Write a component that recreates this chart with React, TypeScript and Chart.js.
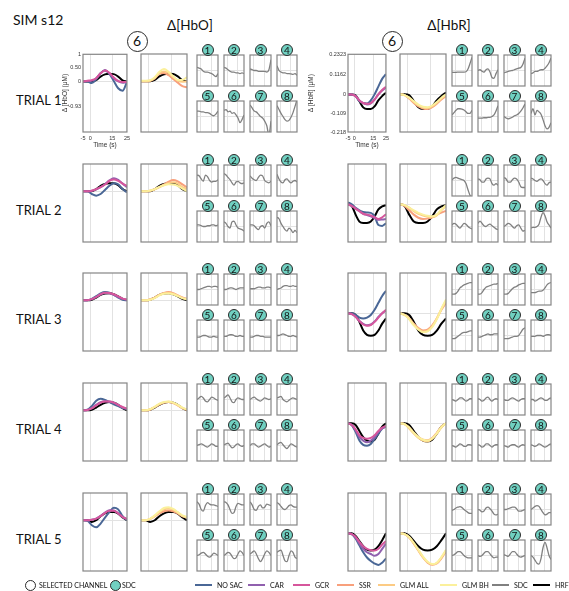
import React, { useEffect, useRef } from "react";
import { Chart, registerables } from "chart.js";

Chart.register(...registerables);

// Sample times (s) shared by every trace
const TIME = [-5, -2, 1, 4, 7, 10, 13, 16, 19, 22, 25];
const TIME_TICKS = [-5, 0, 15, 25];
const TIME_GRID = [0, 15];

const TRIALS = ["TRIAL 1", "TRIAL 2", "TRIAL 3", "TRIAL 4", "TRIAL 5"];
const CHANNELS = ["1", "2", "3", "4", "5", "6", "7", "8"];
const SELECTED_CHANNEL = "6";

// Δ[HbO] axis
const HBO_RANGE = [-1.86, 1];
const HBO_TICKS = [-0.93, 0, 0.5, 1];
const HBO_TICK_LABELS = ["-0.93", "0", "0.50", "1"];
// Δ[HbR] axis
const HBR_RANGE = [-0.218, 0.2323];
const HBR_TICKS = [-0.218, -0.109, 0, 0.1162, 0.2323];
const HBR_TICK_LABELS = ["-0.218", "-0.109", "0", "0.1162", "0.2323"];

// ---- Δ[HbO] (μM), selected channel, one row per trial ----
const hboNoSac = [
  [0, 0, -0.06, 0.08, 0.3, 0.4, 0.28, 0.02, -0.25, -0.34, -0.02],
  [0, 0, -0.1, -0.16, -0.1, 0.05, 0.2, 0.29, 0.25, 0.08, -0.04],
  [0, 0, 0.05, 0.15, 0.25, 0.3, 0.28, 0.2, 0.1, 0.02, 0],
  [0, 0.02, 0.15, 0.35, 0.42, 0.38, 0.3, 0.22, 0.15, 0.08, 0.05],
  [0, -0.02, -0.18, -0.26, -0.12, 0.1, 0.3, 0.46, 0.4, 0.15, 0],
];
const hboCar = [
  [0, 0.02, 0.03, 0.12, 0.3, 0.42, 0.3, 0.12, 0, -0.05, -0.02],
  [0, 0, 0.02, 0.07, 0.15, 0.26, 0.4, 0.48, 0.42, 0.28, 0.15],
  [0, 0, 0.04, 0.12, 0.22, 0.27, 0.26, 0.2, 0.12, 0.05, 0.02],
  [0, 0.01, 0.08, 0.2, 0.3, 0.33, 0.32, 0.28, 0.2, 0.1, 0.05],
  [0, 0, 0.02, 0.06, 0.16, 0.28, 0.37, 0.36, 0.26, 0.12, 0.04],
];
const hboGcr = [
  [0, 0.03, 0.05, 0.12, 0.3, 0.4, 0.32, 0.15, 0.02, -0.02, -0.02],
  [0, 0, 0.02, 0.08, 0.15, 0.25, 0.38, 0.43, 0.38, 0.28, 0.2],
  [0, 0, 0.04, 0.12, 0.22, 0.28, 0.27, 0.22, 0.14, 0.06, 0.03],
  [0, 0.01, 0.07, 0.18, 0.28, 0.32, 0.32, 0.28, 0.2, 0.12, 0.06],
  [0, 0, 0.02, 0.06, 0.15, 0.27, 0.35, 0.35, 0.25, 0.12, 0.05],
];
const hboSsr = [
  [0, 0, 0.02, 0.1, 0.28, 0.3, 0.22, 0.08, -0.05, -0.18, -0.22],
  [0, 0, 0.02, 0.08, 0.15, 0.25, 0.35, 0.41, 0.36, 0.25, 0.14],
  [0, 0, 0.03, 0.1, 0.2, 0.27, 0.3, 0.26, 0.18, 0.1, 0.05],
  [0, 0, 0.03, 0.12, 0.22, 0.28, 0.3, 0.26, 0.18, 0.08, 0.02],
  [0, 0, 0.05, 0.14, 0.25, 0.33, 0.36, 0.33, 0.25, 0.15, 0.1],
];
const hboGlmAll = [
  [0, 0, 0.02, 0.12, 0.3, 0.36, 0.3, 0.15, 0.02, -0.02, 0],
  [0, 0, 0.02, 0.07, 0.15, 0.23, 0.3, 0.33, 0.28, 0.15, 0.08],
  [0, 0, 0.03, 0.1, 0.2, 0.26, 0.28, 0.24, 0.17, 0.08, 0.05],
  [0, 0, 0.03, 0.12, 0.22, 0.29, 0.31, 0.27, 0.18, 0.08, 0.02],
  [0, 0, 0.05, 0.16, 0.3, 0.4, 0.43, 0.38, 0.28, 0.15, 0.1],
];
const hboGlmBh = [
  [0.02, 0.02, 0.04, 0.15, 0.35, 0.45, 0.35, 0.18, 0.05, 0.05, 0.15],
  [0, 0, 0.03, 0.08, 0.16, 0.22, 0.26, 0.25, 0.2, 0.1, 0],
  [0, 0, 0.02, 0.08, 0.18, 0.24, 0.25, 0.22, 0.15, 0.08, 0.03],
  [0, 0, 0.04, 0.13, 0.24, 0.3, 0.32, 0.28, 0.2, 0.1, 0.03],
  [0, 0, 0.06, 0.18, 0.33, 0.45, 0.48, 0.42, 0.3, 0.18, 0.12],
];
const hboHrf = [
  [0, 0, 0, 0.05, 0.18, 0.26, 0.28, 0.27, 0.18, 0.04, 0],
  [0, 0, 0, 0.08, 0.2, 0.27, 0.29, 0.29, 0.22, 0.08, 0],
  [0, 0, 0.02, 0.1, 0.2, 0.25, 0.26, 0.22, 0.14, 0.05, 0],
  [0, 0, 0.02, 0.1, 0.2, 0.27, 0.3, 0.28, 0.2, 0.08, 0],
  [0, 0, -0.06, 0, 0.15, 0.25, 0.3, 0.3, 0.24, 0.1, 0],
];

// ---- Δ[HbR] (μM), selected channel, one row per trial ----
const hbrNoSac = [
  [0, 0, -0.01, -0.04, -0.05, -0.053, -0.035, 0, 0.045, 0.09, 0.117],
  [0.01, 0, -0.02, -0.035, -0.045, -0.048, -0.05, -0.07, -0.12, -0.125, -0.11],
  [0, 0, -0.01, -0.025, -0.03, -0.025, -0.01, 0.02, 0.06, 0.1, 0.13],
  [0, -0.01, -0.05, -0.1, -0.125, -0.13, -0.12, -0.09, -0.06, -0.03, -0.02],
  [0, -0.005, -0.03, -0.07, -0.11, -0.14, -0.16, -0.175, -0.183, -0.17, -0.145],
];
const hbrCar = [
  [0, 0, -0.01, -0.035, -0.05, -0.058, -0.052, -0.03, 0, 0.022, 0.04],
  [0, -0.01, -0.025, -0.04, -0.055, -0.062, -0.07, -0.08, -0.09, -0.088, -0.085],
  [0, -0.005, -0.02, -0.045, -0.062, -0.07, -0.065, -0.048, -0.022, 0, 0.015],
  [0, -0.01, -0.04, -0.08, -0.1, -0.11, -0.1, -0.08, -0.05, -0.03, -0.02],
  [0, -0.005, -0.025, -0.06, -0.09, -0.11, -0.12, -0.13, -0.12, -0.09, -0.06],
];
const hbrGcr = [
  [0, 0, -0.01, -0.035, -0.05, -0.055, -0.05, -0.03, 0, 0.025, 0.045],
  [0, -0.01, -0.025, -0.04, -0.055, -0.06, -0.065, -0.075, -0.085, -0.075, -0.058],
  [0, -0.005, -0.02, -0.045, -0.065, -0.072, -0.068, -0.05, -0.025, 0, 0.02],
  [0, -0.01, -0.035, -0.07, -0.085, -0.09, -0.085, -0.07, -0.045, -0.025, -0.015],
  [0, -0.005, -0.02, -0.05, -0.075, -0.09, -0.098, -0.1, -0.09, -0.065, -0.045],
];
const hbrSsr = [
  [0, -0.005, -0.025, -0.05, -0.07, -0.082, -0.085, -0.075, -0.055, -0.03, -0.01],
  [0, -0.01, -0.035, -0.06, -0.078, -0.085, -0.083, -0.075, -0.06, -0.048, -0.038],
  [0, -0.01, -0.03, -0.06, -0.085, -0.1, -0.095, -0.07, -0.03, 0.02, 0.06],
  [0, -0.005, -0.025, -0.055, -0.08, -0.095, -0.098, -0.085, -0.055, -0.02, 0],
  [0, -0.005, -0.025, -0.06, -0.1, -0.14, -0.17, -0.182, -0.175, -0.145, -0.105],
];
const hbrGlmAll = [
  [0, -0.005, -0.02, -0.045, -0.065, -0.078, -0.08, -0.07, -0.05, -0.025, -0.005],
  [0, -0.005, -0.02, -0.04, -0.055, -0.065, -0.072, -0.075, -0.065, -0.035, -0.01],
  [0, -0.01, -0.03, -0.065, -0.09, -0.105, -0.1, -0.075, -0.03, 0.025, 0.07],
  [0, -0.005, -0.03, -0.06, -0.085, -0.1, -0.105, -0.09, -0.06, -0.025, 0],
  [0, -0.005, -0.025, -0.06, -0.1, -0.138, -0.168, -0.18, -0.172, -0.14, -0.1],
];
const hbrGlmBh = [
  [0, -0.005, -0.02, -0.04, -0.06, -0.072, -0.075, -0.065, -0.045, -0.02, 0],
  [0, -0.005, -0.02, -0.035, -0.05, -0.06, -0.067, -0.07, -0.06, -0.03, -0.005],
  [0, -0.01, -0.035, -0.07, -0.095, -0.11, -0.105, -0.08, -0.035, 0.025, 0.08],
  [0, -0.005, -0.025, -0.055, -0.08, -0.095, -0.1, -0.088, -0.058, -0.022, 0],
  [0, -0.005, -0.022, -0.055, -0.095, -0.135, -0.165, -0.178, -0.17, -0.138, -0.095],
];
const hbrHrf = [
  [0, 0, -0.005, -0.04, -0.075, -0.085, -0.085, -0.07, -0.035, -0.01, 0.01],
  [0, -0.01, -0.06, -0.1, -0.108, -0.108, -0.1, -0.07, -0.03, -0.012, -0.005],
  [0, 0, -0.01, -0.05, -0.1, -0.125, -0.13, -0.125, -0.1, -0.06, -0.03],
  [0, 0, -0.01, -0.045, -0.08, -0.1, -0.105, -0.095, -0.06, -0.02, 0],
  [0, 0, -0.015, -0.045, -0.075, -0.095, -0.1, -0.095, -0.075, -0.04, 0],
];

// ---- SDC traces per channel (1..8), each on its own panel scale (-1..1) ----
const hboSdcTrial1 = [
  [0.2, 0.15, 0.1, -0.05, -0.1, -0.1, -0.15, -0.2, -0.3, -0.4, -0.2],
  [0.2, 0.15, 0.05, -0.05, -0.1, -0.1, -0.15, -0.15, -0.2, -0.15, -0.2],
  [0.1, 0.05, 0, 0, -0.05, -0.05, -0.05, -0.05, -0.1, 0.05, 0.7],
  [0.3, 0, -0.1, -0.15, -0.15, -0.2, -0.2, -0.22, -0.25, -0.2, -0.3],
  [0.35, 0.35, 0.3, 0.3, 0.25, 0.25, 0.2, 0.1, 0.05, 0.15, 0.35],
  [0.4, 0.45, 0.3, 0.35, 0.2, 0.25, 0.1, -0.1, -0.4, -0.2, 0.1],
  [0.75, 0.55, 0.35, 0.3, 0.15, 0, -0.1, -0.3, -0.6, -1.2, -0.3],
  [0.7, 0.45, 0.2, 0, -0.2, -0.3, -0.25, -0.05, 0.25, 0.65, 1.1],
];
const hboSdcTrial2 = [
  [0.35, 0.3, 0.1, -0.05, 0.35, 0.25, 0, -0.1, -0.05, -0.05, 0.05],
  [0.45, 0.35, 0.2, 0.05, -0.15, -0.3, -0.1, -0.05, -0.15, -0.2, -0.15],
  [0.3, 0.15, 0.05, 0, 0.2, 0.35, 0.3, 0, -0.1, -0.15, -0.05],
  [0.4, 0.1, -0.1, -0.15, 0.05, 0.1, -0.05, -0.15, -0.05, 0, -0.1],
  [0.1, 0.1, 0.05, 0, 0, 0.05, 0.05, 0.1, 0.1, 0.05, 0.1],
  [0.3, 0.2, 0, -0.1, 0.3, 0.35, 0.1, -0.1, -0.15, -0.2, -0.3],
  [0.1, 0.1, 0.05, -0.1, -0.2, 0, 0.05, -0.1, 0.2, 0.3, 0.05],
  [0.6, 0.5, 0.2, 0, -0.2, -0.3, -0.1, -0.2, -0.4, -0.25, -0.4],
];
const hboSdcTrial3 = [
  [0, 0, 0.05, 0.1, 0.15, 0.2, 0.2, 0.15, 0.2, 0.2, 0.15],
  [0, 0, 0.05, 0.1, 0.1, 0.05, 0, 0.05, 0.1, 0.1, 0.1],
  [0.05, 0.05, 0.05, 0.1, 0.15, 0.15, 0.1, 0.1, 0.15, 0.15, 0.1],
  [0, 0.05, 0.1, 0.2, 0.25, 0.25, 0.2, 0.2, 0.25, 0.2, 0.2],
  [-0.1, -0.1, -0.05, 0, 0, -0.05, -0.1, -0.1, -0.05, -0.1, -0.1],
  [-0.05, -0.05, 0, 0.05, 0.05, 0, -0.05, -0.05, 0, -0.05, -0.05],
  [-0.1, -0.1, -0.05, 0, 0, -0.05, -0.05, -0.1, -0.1, -0.1, -0.1],
  [0, 0, 0.05, 0.1, 0.05, 0, -0.05, -0.05, 0, -0.05, -0.1],
];
const hboSdcTrial4 = [
  [0, 0.1, 0.2, 0.1, -0.1, -0.15, 0, 0.15, 0.1, 0, -0.05],
  [0.1, 0.2, 0.3, 0.1, -0.15, -0.2, 0, 0.1, 0.05, 0, 0],
  [0, 0.1, 0.15, 0.05, -0.05, -0.1, 0, 0.1, 0.05, 0, 0.05],
  [0.1, 0.15, 0.2, 0, -0.1, -0.15, -0.05, 0.05, 0.1, 0.05, 0],
  [0, 0.05, 0.1, 0.05, -0.05, -0.1, 0, 0.1, 0.05, -0.05, -0.05],
  [0.05, 0.1, 0.15, 0, -0.15, -0.1, 0.05, 0.1, 0, -0.05, 0],
  [0, 0.1, 0.1, 0, -0.1, -0.05, 0.05, 0.1, 0, -0.1, -0.05],
  [0.05, 0.15, 0.2, 0.05, -0.1, -0.2, -0.05, 0.1, 0.05, -0.05, -0.1],
];
const hboSdcTrial5 = [
  [0.5, 0.35, 0, -0.1, 0.25, 0.45, 0.35, 0.3, 0.3, 0.25, 0.2],
  [0.5, 0.45, 0.3, 0, -0.25, -0.2, 0.2, 0.4, 0.35, 0.3, 0.3],
  [0.5, 0.3, 0, -0.05, 0.2, 0.3, 0.1, 0.15, 0.35, 0.3, 0.25],
  [0.45, 0.35, 0.2, 0.05, 0, 0.1, 0.25, 0.3, 0.2, 0.15, 0.15],
  [0, 0.05, 0.15, 0.2, 0.1, -0.05, -0.1, 0, 0.15, 0.1, 0],
  [0, 0.1, 0.2, 0.15, -0.05, -0.2, -0.15, 0.1, 0.3, 0.2, 0],
  [0.1, 0.2, 0.3, 0.1, -0.2, -0.4, -0.2, 0.1, 0.3, 0.2, 0],
  [0.2, 0.3, 0.35, 0, -0.35, -0.4, 0, 0.3, 0.2, -0.1, -0.2],
];
const hbrSdcTrial1 = [
  [-0.12, -0.12, -0.12, -0.1, -0.1, -0.1, -0.1, -0.08, 0.1, 0.45, 0.85],
  [0, 0.05, -0.05, -0.1, 0.05, 0.1, -0.1, -0.45, -0.5, -0.2, 0.05],
  [-0.15, -0.1, -0.05, -0.02, 0, 0.05, 0.1, 0.15, 0.2, 0.4, 0.8],
  [-0.2, -0.15, -0.05, -0.05, 0, 0.05, 0.05, 0.15, 0.3, 0.5, 0.8],
  [0.1, 0.25, 0.4, 0.5, 0.5, 0.48, 0.42, 0.3, 0.2, 0.2, 0.4],
  [-0.1, -0.1, -0.1, -0.08, -0.08, -0.06, -0.05, 0, 0.1, 0.35, 0.7],
  [0, -0.1, -0.15, -0.1, -0.05, 0.05, 0.1, 0.2, 0.35, 0.55, 0.8],
  [0.2, 0.5, 0.1, 0.4, 0.3, 0.15, -0.2, -0.6, -0.8, -0.7, -0.4],
];
const hbrSdcTrial2 = [
  [0.05, 0.15, 0.2, 0.15, 0.1, 0.05, 0, -0.2, -0.6, -0.95, -1.1],
  [0.1, 0.05, -0.1, -0.1, 0.1, 0.15, 0.1, -0.2, -0.3, -0.2, -0.3],
  [0.2, 0.1, -0.1, -0.1, 0.05, 0.15, 0.1, -0.1, -0.4, -0.45, -0.45],
  [0.15, 0.1, 0, -0.05, 0.05, 0.1, 0, -0.2, -0.3, -0.15, -0.1],
  [0.1, 0.2, 0.15, 0, -0.1, 0.05, 0.2, 0.15, 0, -0.1, -0.15],
  [0.2, 0.35, 0.2, 0.05, 0, 0.1, 0.15, 0.05, -0.05, -0.15, -0.2],
  [0, 0.1, 0.2, 0.15, 0, -0.1, 0.05, 0.1, -0.1, -0.3, -0.25],
  [-0.1, -0.05, -0.05, 0, 0.15, 0.6, 0.9, 0.7, 0.3, 0.1, -0.1],
];
const hbrSdcTrial3 = [
  [-0.3, -0.3, -0.25, -0.1, 0.1, 0.2, 0.3, 0.35, 0.4, 0.45, 0.45],
  [-0.3, -0.3, -0.2, 0, 0.15, 0.2, 0.25, 0.3, 0.35, 0.35, 0.4],
  [-0.3, -0.3, -0.25, -0.1, 0.05, 0.15, 0.2, 0.3, 0.35, 0.4, 0.4],
  [-0.2, -0.2, -0.2, -0.15, -0.1, -0.1, -0.05, 0.1, 0.3, 0.4, 0.45],
  [-0.2, -0.2, -0.15, -0.05, 0.05, 0.15, 0.2, 0.2, 0.25, 0.3, 0.3],
  [-0.1, -0.1, -0.05, 0, 0.05, 0.1, 0.05, 0.05, 0.1, 0.1, 0.1],
  [-0.2, -0.2, -0.2, -0.15, -0.1, -0.05, -0.05, 0, 0.2, 0.4, 0.5],
  [-0.05, -0.05, -0.05, 0, 0, 0, -0.05, 0, 0.05, 0.05, 0],
];
const hbrSdcTrial4 = [
  [0, -0.05, -0.1, 0, 0.1, 0.1, 0, -0.1, -0.05, 0.05, 0.05],
  [0.05, 0, -0.1, -0.05, 0.1, 0.15, 0, -0.1, 0, 0.05, 0],
  [0, -0.05, -0.05, 0.05, 0.1, 0.05, -0.05, -0.1, 0, 0.05, 0.05],
  [0, 0, -0.1, -0.05, 0.05, 0.1, 0.05, -0.05, -0.05, 0.05, 0.1],
  [0, -0.05, -0.1, 0, 0.1, 0.05, -0.05, -0.05, 0.05, 0.05, 0],
  [0.05, 0, -0.1, -0.05, 0.1, 0.1, 0, -0.1, 0, 0.05, 0.05],
  [0, -0.05, -0.1, 0, 0.05, 0.05, -0.05, -0.1, 0, 0.05, 0],
  [0.05, 0, -0.05, 0, 0.1, 0.05, -0.05, -0.1, -0.05, 0.05, 0.1],
];
const hbrSdcTrial5 = [
  [-0.05, 0, 0.1, 0.15, 0.18, 0.12, 0, -0.1, -0.2, -0.25, -0.25],
  [0, -0.05, -0.15, -0.1, 0.1, 0.15, 0.05, -0.1, -0.3, -0.35, -0.3],
  [0, 0, 0.05, 0.1, 0.15, 0.15, 0.05, -0.1, -0.1, -0.05, 0],
  [0, 0.1, 0.2, 0.25, 0.2, 0, -0.2, -0.35, -0.3, -0.2, -0.2],
  [0, 0.05, 0.15, 0.25, 0.25, 0.15, 0, -0.1, -0.15, -0.15, -0.15],
  [0, -0.05, 0, 0.15, 0.25, 0.25, 0.1, -0.05, -0.15, -0.1, -0.1],
  [0.05, 0, -0.05, 0.1, 0.25, 0.25, 0.1, -0.05, -0.1, -0.05, 0],
  [0, -0.1, -0.3, -0.5, -0.55, -0.2, 0.5, 0.85, 0.5, 0, -0.25],
];

// Legend entries
const METHODS = ["NO SAC", "CAR", "GCR", "SSR", "GLM ALL", "GLM BH", "SDC", "HRF"];

// ---- styling / layout ----
const METHOD_COLORS: Record<string, string> = {
  "NO SAC": "#4a6796",
  CAR: "#9060ae",
  GCR: "#d6569c",
  SSR: "#f8a07c",
  "GLM ALL": "#fccb84",
  "GLM BH": "#fbf09c",
  SDC: "#808080",
  HRF: "#000000",
};
const SDC_FILL = "#70d0c1";
const AXIS_FONT = "'Liberation Sans', Arial, sans-serif";
const LABEL_FONT = "Lato, 'Noto Sans', sans-serif";
const INK = "#333333";
const GRID = "#e2e2e2";

const TRIAL_TOPS = [54, 164, 273, 383, 493];
const BIG_H = 78;
const SMALL_ROWS = [
  [1, 32],
  [47, 78],
];
const LEGEND_SLOTS = [195, 248, 293, 337, 378, 440, 492, 533];

const LAYOUT = {
  hbo: {
    p1: [83, 127],
    p2: [141, 187],
    small: [[197, 218], [224, 244], [250, 271], [277, 297]],
    axisW: 22,
    head: 190,
    badge: 137,
  },
  hbr: {
    p1: [348, 386],
    p2: [400, 446],
    small: [[452, 472], [478, 498], [504, 525], [531, 551]],
    axisW: 41,
    head: 449,
    badge: 392,
  },
};

const DATA = {
  hbo: {
    noSac: hboNoSac, car: hboCar, gcr: hboGcr, ssr: hboSsr,
    glmAll: hboGlmAll, glmBh: hboGlmBh, hrf: hboHrf,
    sdc: [hboSdcTrial1, hboSdcTrial2, hboSdcTrial3, hboSdcTrial4, hboSdcTrial5],
    range: HBO_RANGE, ticks: HBO_TICKS, labels: HBO_TICK_LABELS,
    title: "Δ [HbO] (μM)", head: "Δ[HbO]",
  },
  hbr: {
    noSac: hbrNoSac, car: hbrCar, gcr: hbrGcr, ssr: hbrSsr,
    glmAll: hbrGlmAll, glmBh: hbrGlmBh, hrf: hbrHrf,
    sdc: [hbrSdcTrial1, hbrSdcTrial2, hbrSdcTrial3, hbrSdcTrial4, hbrSdcTrial5],
    range: HBR_RANGE, ticks: HBR_TICKS, labels: HBR_TICK_LABELS,
    title: "Δ [HbR] (μM)", head: "Δ[HbR]",
  },
};

type Trace = { values: number[]; color: string; width: number };
type AxisSpec = { ticks: number[]; labels: string[]; title: string; width: number };

// Grey frame around each plot area
const frame = {
  id: "frame",
  afterDatasetsDraw(chart: any) {
    const { ctx, chartArea: a } = chart;
    ctx.save();
    ctx.strokeStyle = "#858585";
    ctx.lineWidth = 1.2;
    ctx.strokeRect(a.left, a.top, a.right - a.left, a.bottom - a.top);
    ctx.restore();
  },
};

function Panel({ box, traces, yMin, yMax, axis }: { box: number[]; traces: Trace[]; yMin: number; yMax: number; axis?: AxisSpec }) {
  const ref = useRef<HTMLCanvasElement>(null);
  const [l, t, r, b] = box;
  const padL = axis ? axis.width : 2;
  const padT = axis ? 5 : 2;
  const padR = axis ? 6 : 2;
  const padB = axis ? 17 : 2;
  const w = r - l + padL + padR;
  const h = b - t + padT + padB;

  useEffect(() => {
    const tickFont = { family: AXIS_FONT, size: 5.5 };
    const titleFont = { family: AXIS_FONT, size: 6.5 };
    const chart = new Chart(ref.current as HTMLCanvasElement, {
      type: "line",
      data: {
        datasets: traces.map((s) => ({
          data: TIME.map((x, i) => ({ x, y: s.values[i] })),
          borderColor: s.color,
          borderWidth: s.width,
          pointRadius: 0,
          cubicInterpolationMode: "monotone",
          fill: false,
        })),
      },
      options: {
        responsive: false,
        animation: false,
        devicePixelRatio: 1,
        events: [],
        layout: {
          padding: axis
            ? { left: 0, top: padT, right: padR, bottom: 0 }
            : { left: padL, top: padT, right: padR, bottom: padB },
        },
        plugins: { legend: { display: false }, tooltip: { enabled: false } },
        scales: {
          x: {
            type: "linear",
            min: TIME[0],
            max: TIME[TIME.length - 1],
            afterBuildTicks: (s: any) => {
              s.ticks = (axis ? TIME_TICKS : TIME_GRID).map((v) => ({ value: v }));
            },
            afterFit: (s: any) => {
              s.height = axis ? padB : 0;
            },
            grid: {
              color: (c: any) => (c.tick && TIME_GRID.includes(c.tick.value) ? GRID : "rgba(0,0,0,0)"),
              drawTicks: false,
              lineWidth: 1,
            },
            border: { display: false },
            ticks: {
              display: !!axis,
              padding: 3,
              font: tickFont,
              color: INK,
              maxRotation: 0,
              autoSkip: false,
              callback: (v: any) => String(v),
            },
            title: { display: !!axis, text: "Time (s)", padding: 0, font: titleFont, color: INK },
          },
          y: {
            type: "linear",
            min: yMin,
            max: yMax,
            afterBuildTicks: (s: any) => {
              s.ticks = (axis ? axis.ticks : [0]).map((v) => ({ value: v }));
            },
            afterFit: (s: any) => {
              s.width = axis ? padL : 0;
            },
            grid: {
              color: (c: any) => (c.tick && c.tick.value === 0 ? GRID : "rgba(0,0,0,0)"),
              drawTicks: false,
              lineWidth: 1,
            },
            border: { display: false },
            ticks: {
              display: !!axis,
              padding: 2,
              font: tickFont,
              color: INK,
              autoSkip: false,
              callback: (v: any) => (axis ? axis.labels[axis.ticks.indexOf(v)] : ""),
            },
            title: { display: !!axis, text: axis ? axis.title : "", padding: 0, font: titleFont, color: INK },
          },
        },
      } as any,
      plugins: [frame],
    });
    return () => chart.destroy();
  }, []);

  return (
    <canvas
      ref={ref}
      width={w}
      height={h}
      style={{ position: "absolute", left: l - padL, top: t - padT, width: w, height: h }}
    />
  );
}

function Text({ x, y, size, children, center }: { x: number; y: number; size: number; children: any; center?: boolean }) {
  return (
    <div
      style={{
        position: "absolute",
        left: x,
        top: y,
        transform: `translate(${center ? "-50%" : "0"}, -50%)`,
        fontSize: size,
        lineHeight: 1,
        whiteSpace: "nowrap",
        color: "#111",
        fontFamily: LABEL_FONT,
      }}
    >
      {children}
    </div>
  );
}

function Badge({ x, y, r, fill, size, label }: { x: number; y: number; r: number; fill: string; size: number; label?: string }) {
  return (
    <div
      style={{
        position: "absolute",
        left: x - r,
        top: y - r,
        width: 2 * r,
        height: 2 * r,
        boxSizing: "border-box",
        borderRadius: "50%",
        border: "1px solid #2a2a2a",
        background: fill,
        display: "flex",
        alignItems: "center",
        justifyContent: "center",
        fontFamily: LABEL_FONT,
        fontSize: size,
        lineHeight: 1,
        color: "#111",
      }}
    >
      {label}
    </div>
  );
}

function Group({ kind, trial }: { kind: "hbo" | "hbr"; trial: number }) {
  const lay = LAYOUT[kind];
  const d = DATA[kind];
  const top = TRIAL_TOPS[trial];
  const axis = trial === 0 ? { ticks: d.ticks, labels: d.labels, title: d.title, width: lay.axisW } : undefined;
  const c = METHOD_COLORS;
  // earlier entries are drawn on top
  const left: Trace[] = [
    { values: d.gcr[trial], color: c.GCR, width: 2 },
    { values: d.car[trial], color: c.CAR, width: 2 },
    { values: d.noSac[trial], color: c["NO SAC"], width: 2 },
    { values: d.hrf[trial], color: c.HRF, width: 2 },
  ];
  const right: Trace[] = [
    { values: d.glmBh[trial], color: c["GLM BH"], width: 2 },
    { values: d.glmAll[trial], color: c["GLM ALL"], width: 2 },
    { values: d.ssr[trial], color: c.SSR, width: 2 },
    { values: d.hrf[trial], color: c.HRF, width: 2 },
  ];
  return (
    <>
      <Panel box={[lay.p1[0], top, lay.p1[1], top + BIG_H]} traces={left} yMin={d.range[0]} yMax={d.range[1]} axis={axis} />
      <Panel box={[lay.p2[0], top, lay.p2[1], top + BIG_H]} traces={right} yMin={d.range[0]} yMax={d.range[1]} />
      {CHANNELS.map((ch, k) => {
        const col = lay.small[k % 4];
        const row = SMALL_ROWS[Math.floor(k / 4)];
        const bt = top + row[0];
        return (
          <React.Fragment key={ch}>
            <Panel
              box={[col[0], bt, col[1], top + row[1]]}
              traces={[{ values: d.sdc[trial][k], color: c.SDC, width: 1.3 }]}
              yMin={-1}
              yMax={1}
            />
            <Badge x={(col[0] + col[1]) / 2} y={bt - 5} r={6} fill={SDC_FILL} size={10} label={ch} />
          </React.Fragment>
        );
      })}
    </>
  );
}

function Legend() {
  return (
    <>
      <Badge x={30} y={585} r={5.5} fill="#ffffff" size={7} />
      <Text x={39} y={585} size={7}>SELECTED CHANNEL</Text>
      <Badge x={115.5} y={585} r={5.5} fill={SDC_FILL} size={7} />
      <Text x={122} y={585} size={7}>SDC</Text>
      {METHODS.map((m, i) => (
        <React.Fragment key={m}>
          <div
            style={{
              position: "absolute",
              left: LEGEND_SLOTS[i],
              top: 584,
              width: 17,
              height: 2,
              background: METHOD_COLORS[m],
            }}
          />
          <Text x={LEGEND_SLOTS[i] + 22} y={585} size={7}>
            {m}
          </Text>
        </React.Fragment>
      ))}
    </>
  );
}

export default function App() {
  return (
    <div
      style={{
        position: "absolute",
        left: 0,
        top: 0,
        width: 569,
        height: 591,
        background: "#ffffff",
        overflow: "hidden",
      }}
    >
      <Text x={13} y={20} size={14}>SIM s12</Text>
      {(["hbo", "hbr"] as const).map((k) => (
        <React.Fragment key={k}>
          <Text x={LAYOUT[k].head} y={26} size={13.5} center>
            {DATA[k].head}
          </Text>
          <Badge x={LAYOUT[k].badge} y={41} r={10.5} fill="#ffffff" size={14} label={SELECTED_CHANNEL} />
        </React.Fragment>
      ))}
      {TRIALS.map((name, i) => (
        <React.Fragment key={name}>
          <Text x={16} y={TRIAL_TOPS[i] + 46} size={13}>
            {name}
          </Text>
          <Group kind="hbo" trial={i} />
          <Group kind="hbr" trial={i} />
        </React.Fragment>
      ))}
      <Legend />
    </div>
  );
}
